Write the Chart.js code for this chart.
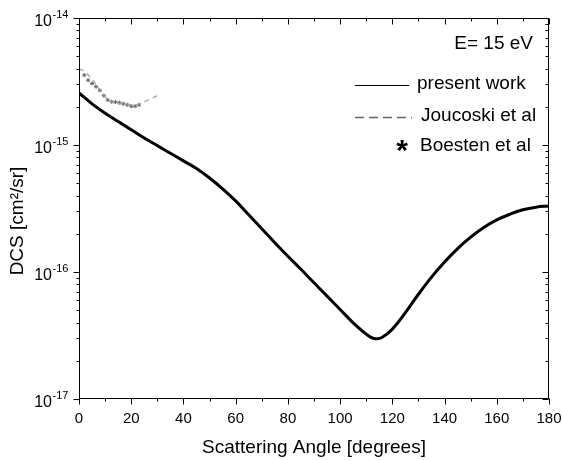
<!DOCTYPE html>
<html>
<head>
<meta charset="utf-8">
<script src="https://cdn.jsdelivr.net/npm/chart.js@4.4.1/dist/chart.umd.min.js"></script>
<style>
  html, body { margin: 0; padding: 0; background: #fff; }
</style>
</head>
<body>
<canvas id="dcs" width="563" height="460"></canvas>
<script>
// Differential cross section vs scattering angle, E = 15 eV
const presentAngles = [0, 5, 10, 15, 20, 25, 30, 35, 40, 45, 50, 55, 60, 65, 70, 75, 80, 85, 90,
  95, 100, 105, 110, 113, 116, 120, 125, 130, 135, 140, 145, 150, 155, 160, 165, 170, 175, 180];
const presentDcs = [2.57e-15, 2.11e-15, 1.78e-15, 1.53e-15, 1.32e-15, 1.135e-15, 9.89e-16, 8.61e-16,
  7.50e-16, 6.53e-16, 5.50e-16, 4.52e-16, 3.63e-16, 2.82e-16, 2.19e-16, 1.70e-16, 1.33e-16, 1.05e-16,
  8.22e-17, 6.46e-17, 5.07e-17, 3.98e-17, 3.24e-17, 2.99e-17, 3.05e-17, 3.55e-17, 4.79e-17, 6.68e-17,
  9.12e-17, 1.20e-16, 1.53e-16, 1.88e-16, 2.24e-16, 2.57e-16, 2.85e-16, 3.09e-16, 3.24e-16, 3.31e-16];

const joucoskiAngles = [0, 2, 4, 6, 8, 10, 12, 14, 16, 18, 20, 22, 24, 26, 28, 30];
const joucoskiDcs = [3.98e-15, 3.80e-15, 3.47e-15, 3.09e-15, 2.69e-15, 2.40e-15, 2.21e-15, 2.14e-15,
  2.11e-15, 2.09e-15, 2.07e-15, 2.07e-15, 2.14e-15, 2.24e-15, 2.34e-15, 2.45e-15];

const boestenAngles = [2, 3.5, 5, 6.5, 8, 9.5, 11, 12.5, 14, 15.5, 17, 18.5, 20, 21.5, 23];
const boestenDcs = [3.55e-15, 3.24e-15, 3.05e-15, 2.88e-15, 2.69e-15, 2.45e-15, 2.26e-15, 2.19e-15,
  2.18e-15, 2.15e-15, 2.11e-15, 2.07e-15, 2.02e-15, 2.02e-15, 2.07e-15];

const yDecades = [-17, -16, -15, -14];
const energyLabel = 'E= 15 eV';
const seriesNames = ['present work', 'Joucoski et al', 'Boesten et al'];

const FONT = "'Liberation Sans', Arial, sans-serif";

const toPoints = (xs, ys) => xs.map((v, i) => ({ x: v, y: ys[i] }));

// frame, inward/outward ticks, exponent labels and the in-plot legend
const decorPlugin = {
  id: 'decor',
  afterDraw(chart) {
    const { ctx, chartArea: a, scales: { x, y } } = chart;
    const L = Math.round(a.left) + 0.5, R = Math.round(a.right) - 0.5;
    const T = Math.round(a.top) + 0.5, B = Math.round(a.bottom) - 0.5;
    ctx.save();
    ctx.strokeStyle = '#000';
    ctx.lineWidth = 1;
    ctx.strokeRect(L, T, R - L, B - T);

    ctx.beginPath();
    for (let v = 0; v <= 180; v += 10) {
      const px = Math.round(x.getPixelForValue(v)) + 0.5;
      const len = v % 20 === 0 ? 6 : 3;
      ctx.moveTo(px, B); ctx.lineTo(px, B + len);
      ctx.moveTo(px, T); ctx.lineTo(px, T + len);
    }
    for (let e = -17; e <= -14; e++) {
      for (let m = 1; m <= 9; m++) {
        if (e === -14 && m > 1) break;
        const py = Math.round(y.getPixelForValue(m * Math.pow(10, e))) + 0.5;
        const len = m === 1 ? 6 : 3;
        ctx.moveTo(L - len, py); ctx.lineTo(L, py);
        ctx.moveTo(R - len, py); ctx.lineTo(R, py);
      }
    }
    ctx.stroke();

    // y tick labels as 10^n
    ctx.fillStyle = '#000';
    ctx.textBaseline = 'alphabetic';
    yDecades.forEach(e => {
      const py = y.getPixelForValue(Math.pow(10, e));
      ctx.font = '16px ' + FONT;
      ctx.textAlign = 'right';
      ctx.fillText('10', 52, py + 8);
      ctx.font = '11px ' + FONT;
      ctx.textAlign = 'left';
      ctx.fillText('-' + String(-e), 52.5, py);
    });

    // y axis title
    ctx.save();
    ctx.translate(18, 221);
    ctx.rotate(-Math.PI / 2);
    ctx.font = '19px ' + FONT;
    ctx.textAlign = 'center';
    ctx.textBaseline = 'middle';
    ctx.fillText('DCS [cm\u00B2/sr]', 0, 0);
    ctx.restore();

    // legend block
    ctx.font = '19px ' + FONT;
    ctx.textAlign = 'right';
    ctx.textBaseline = 'middle';
    ctx.fillText(energyLabel, 533, 44);
    ctx.textAlign = 'left';
    ctx.fillText(seriesNames[0], 417, 84);
    ctx.fillText(seriesNames[1], 421, 116);
    ctx.fillText(seriesNames[2], 420, 146);

    ctx.strokeStyle = '#000';
    ctx.lineWidth = 1;
    ctx.beginPath();
    ctx.moveTo(355, 85.5); ctx.lineTo(409, 85.5);
    ctx.stroke();

    ctx.strokeStyle = '#666';
    ctx.lineWidth = 1.3;
    ctx.setLineDash([9, 5]);
    ctx.beginPath();
    ctx.moveTo(355, 117.5); ctx.lineTo(412, 117.5);
    ctx.stroke();
    ctx.setLineDash([]);

    ctx.fillStyle = '#000';
    ctx.font = 'bold 30px ' + FONT;
    ctx.textAlign = 'center';
    ctx.textBaseline = 'alphabetic';
    ctx.fillText('*', 402, 160);
    ctx.restore();
  }
};

const ctx = document.getElementById('dcs').getContext('2d');
new Chart(ctx, {
  type: 'line',
  data: {
    datasets: [
      {
        label: seriesNames[0],
        data: toPoints(presentAngles, presentDcs),
        borderColor: '#000',
        borderWidth: 3,
        pointRadius: 0,
        tension: 0.4,
        order: 0
      },
      {
        label: seriesNames[1],
        data: toPoints(joucoskiAngles, joucoskiDcs),
        borderColor: '#a0a0a0',
        borderWidth: 1.3,
        borderDash: [5, 4],
        pointRadius: 0,
        tension: 0.4,
        order: 1
      },
      {
        label: seriesNames[2],
        data: toPoints(boestenAngles, boestenDcs),
        showLine: false,
        pointStyle: 'star',
        pointRadius: 2,
        borderColor: '#666',
        borderWidth: 1,
        order: 2
      }
    ]
  },
  options: {
    responsive: false,
    animation: false,
    devicePixelRatio: 1,
    layout: { padding: { left: 0, top: 18, right: 14, bottom: 0 } },
    plugins: {
      legend: { display: false },
      tooltip: { enabled: false }
    },
    scales: {
      x: {
        type: 'linear',
        min: 0,
        max: 180,
        grid: { display: false, drawTicks: false },
        border: { display: false },
        ticks: {
          stepSize: 20,
          maxRotation: 0,
          padding: 11,
          color: '#000',
          font: { family: FONT, size: 15 }
        },
        title: {
          display: true,
          text: 'Scattering Angle [degrees]',
          color: '#000',
          font: { family: FONT, size: 19 },
          padding: { top: 0, bottom: 1 }
        },
        afterFit: s => {
          s.height = 61;
          s.paddingLeft = 0;
          s.paddingRight = 0;
        }
      },
      y: {
        type: 'logarithmic',
        min: 1e-17,
        max: 1e-14,
        grid: { display: false, drawTicks: false },
        border: { display: false },
        ticks: { display: false },
        afterFit: s => { s.width = 79; }
      }
    }
  },
  plugins: [decorPlugin]
});
</script>
</body>
</html>
